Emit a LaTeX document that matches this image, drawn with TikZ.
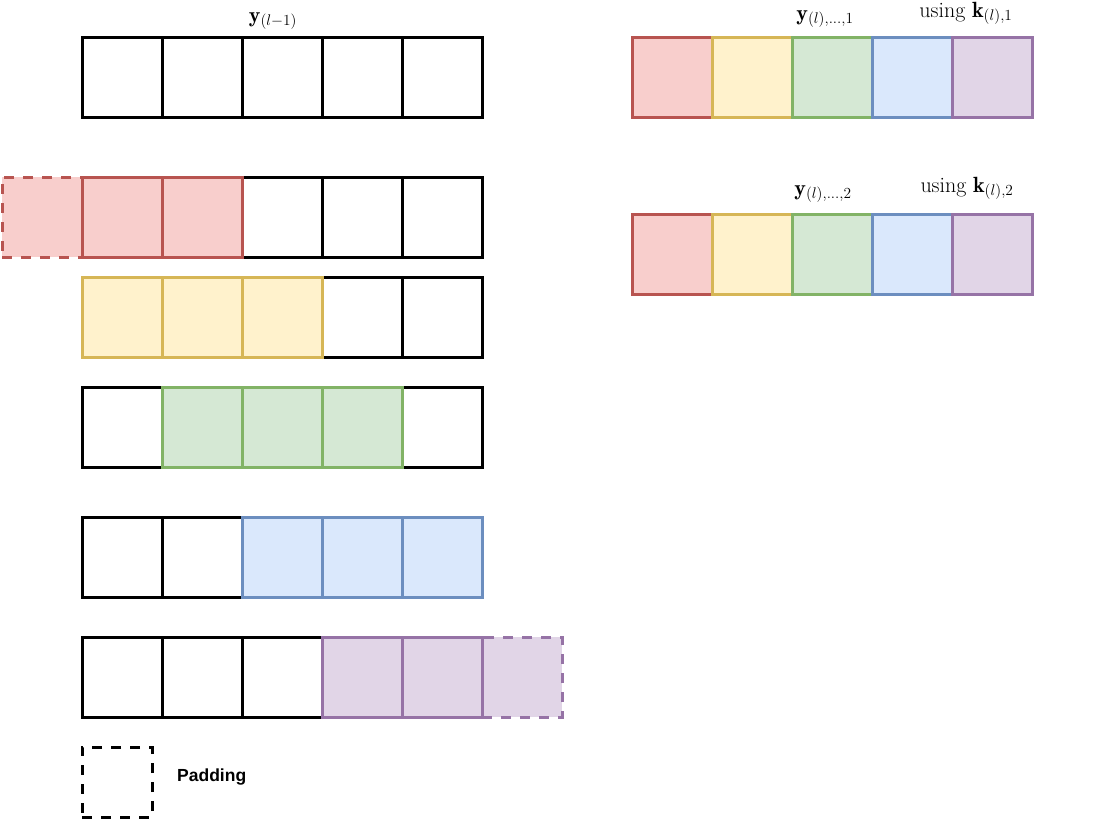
\RequirePackage{fix-cm}
\documentclass[tikz,border=0pt]{standalone}
\usepackage{amsmath}
\usepackage{fontspec}
\newfontfamily\lsans{Liberation Sans}
\definecolor{rF}{HTML}{F8CECC}\definecolor{rS}{HTML}{B85450}
\definecolor{yF}{HTML}{FFF2CC}\definecolor{yS}{HTML}{D6B656}
\definecolor{gF}{HTML}{D5E8D4}\definecolor{gS}{HTML}{82B366}
\definecolor{bF}{HTML}{DAE8FC}\definecolor{bS}{HTML}{6C8EBF}
\definecolor{pF}{HTML}{E1D5E7}\definecolor{pS}{HTML}{9673A6}
\tikzset{
  cell/.style={draw=black, fill=white, line width=3pt, minimum size=80pt, inner sep=0pt, outer sep=0pt},
  red/.style={draw=rS, fill=rF},
  yel/.style={draw=yS, fill=yF},
  grn/.style={draw=gS, fill=gF},
  blu/.style={draw=bS, fill=bF},
  pur/.style={draw=pS, fill=pF},
  pad/.style={dash pattern=on 10pt off 9pt},
  lbl/.style={inner sep=0pt, anchor=base, font=\fontsize{22}{26}\selectfont}
}
\begin{document}
\begin{tikzpicture}[x=1pt,y=-1pt]
\useasboundingbox (0,0) rectangle (1113,820);
% row 1 (y_{l-1})
\foreach \i in {0,...,4}{ \node[cell] (a\i) at ({122+80*\i},77) {}; }
% row 2 (red)
\node[cell,red,pad] (b0) at (42,217) {};
\node[cell] (b4) at (362,217) {};
\node[cell] (b5) at (442,217) {};
\node[cell] (b3) at (282,217) {};
\node[cell,red] (b1) at (122,217) {};
\node[cell,red] (b2) at (202,217) {};
% row 3 (yellow)
\node[cell] (c4) at (362,317) {};
\node[cell] (c5) at (442,317) {};
\node[cell,yel] (c1) at (122,317) {};
\node[cell,yel] (c2) at (202,317) {};
\node[cell,yel] (c3) at (282,317) {};
% row 4 (green)
\node[cell] (d1) at (122,427) {};
\node[cell] (d5) at (442,427) {};
\node[cell,grn] (d2) at (202,427) {};
\node[cell,grn] (d3) at (282,427) {};
\node[cell,grn] (d4) at (362,427) {};
% row 5 (blue)
\node[cell] (e1) at (122,557) {};
\node[cell] (e2) at (202,557) {};
\node[cell,blu] (e3) at (282,557) {};
\node[cell,blu] (e4) at (362,557) {};
\node[cell,blu] (e5) at (442,557) {};
% row 6 (purple)
\node[cell] (f1) at (122,677) {};
\node[cell] (f2) at (202,677) {};
\node[cell] (f3) at (282,677) {};
\node[cell,pur,pad] (f6) at (522,677) {};
\node[cell,pur] (f4) at (362,677) {};
\node[cell,pur] (f5) at (442,677) {};
% right rows
\node[cell,red] (g1) at (672,77) {};
\node[cell,yel] (g2) at (752,77) {};
\node[cell,grn] (g3) at (832,77) {};
\node[cell,blu] (g4) at (912,77) {};
\node[cell,pur] (g5) at (992,77) {};
\node[cell,red] (h1) at (672,254) {};
\node[cell,yel] (h2) at (752,254) {};
\node[cell,grn] (h3) at (832,254) {};
\node[cell,blu] (h4) at (912,254) {};
\node[cell,pur] (h5) at (992,254) {};
% padding legend
\node[cell,pad,minimum size=70pt] (padbox) at (117,782) {};
\node[anchor=west, inner sep=0pt, font=\lsans\bfseries\fontsize{17.5}{20}\selectfont] (padtxt) at (177,777) {Padding};
% labels
\node[lbl] (ly0) at (273,22) {$\mathbf{y}_{(l-1)}$};
\node[lbl] (ly1) at (825,20) {$\mathbf{y}_{(l),\ldots,1}$};
\node[lbl] (lk1) at (966,17) {using $\mathbf{k}_{(l),1}$};
\node[lbl] (ly2) at (823,195) {$\mathbf{y}_{(l),\ldots,2}$};
\node[lbl] (lk2) at (967,192) {using $\mathbf{k}_{(l),2}$};
\end{tikzpicture}
\end{document}
